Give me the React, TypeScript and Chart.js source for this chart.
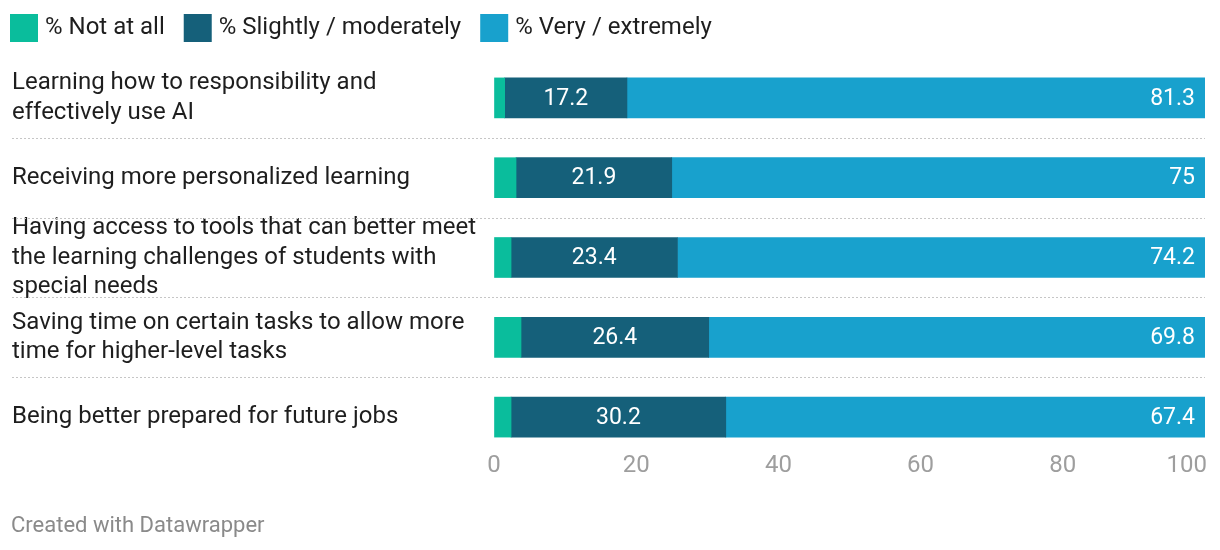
import React, { useEffect, useRef } from "react";
import { Chart, registerables } from "chart.js";
Chart.register(...registerables);

const categories: string[][] = [
  ["Learning how to responsibility and", "effectively use AI"],
  ["Receiving more personalized learning"],
  ["Having access to tools that can better meet", "the learning challenges of students with", "special needs"],
  ["Saving time on certain tasks to allow more", "time for higher-level tasks"],
  ["Being better prepared for future jobs"],
];
const seriesNames = ["% Not at all", "% Slightly / moderately", "% Very / extremely"];
const notAtAll = [1.5, 3.1, 2.4, 3.8, 2.4];
const slightly = [17.2, 21.9, 23.4, 26.4, 30.2];
const very = [81.3, 75, 74.2, 69.8, 67.4];
const seriesColors = ["#0abd9c", "#15607a", "#18a1cd"];
const xTicks = [0, 20, 40, 60, 80, 100];
const footerText = "Created with Datawrapper";

const FONT = "Roboto, 'Noto Sans', sans-serif";

const fmt = (v: number) => String(v);

const decor = {
  id: "decor",
  beforeDatasetsDraw(chart: any) {
    const { ctx, chartArea } = chart;
    const y = chart.scales.y;
    ctx.save();
    ctx.strokeStyle = "#c6c6c6";
    ctx.lineWidth = 1;
    ctx.setLineDash([2, 2]);
    for (let i = 0; i < categories.length - 1; i++) {
      const py = Math.round((y.getPixelForValue(i) + y.getPixelForValue(i + 1)) / 2) + 0.5;
      ctx.beginPath();
      ctx.moveTo(12, py);
      ctx.lineTo(chartArea.right, py);
      ctx.stroke();
    }
    ctx.restore();
  },
  afterDraw(chart: any) {
    const { ctx, chartArea } = chart;
    ctx.save();
    // value labels
    ctx.font = `23px ${FONT}`;
    ctx.fillStyle = "#ffffff";
    ctx.textBaseline = "middle";
    const m1 = chart.getDatasetMeta(1);
    const m2 = chart.getDatasetMeta(2);
    m1.data.forEach((el: any, i: number) => {
      ctx.textAlign = "center";
      ctx.fillText(fmt(slightly[i]), (el.x + el.base) / 2, el.y + 1);
    });
    m2.data.forEach((el: any, i: number) => {
      ctx.textAlign = "right";
      ctx.fillText(fmt(very[i]), el.x - 10, el.y + 1);
    });

    // x tick labels
    const xs = chart.scales.x;
    ctx.font = `24px ${FONT}`;
    ctx.fillStyle = "#9e9e9e";
    xTicks.forEach((v, i) => {
      const px = xs.getPixelForValue(v);
      if (i === xTicks.length - 1) {
        ctx.textAlign = "right";
        ctx.fillText(String(v), px + 2, chartArea.bottom + 9);
      } else {
        ctx.textAlign = "center";
        ctx.fillText(String(v), px, chartArea.bottom + 9);
      }
    });

    // legend
    let lx = 10;
    ctx.textAlign = "left";
    ctx.font = `24px ${FONT}`;
    seriesNames.forEach((name, i) => {
      ctx.fillStyle = seriesColors[i];
      ctx.fillRect(lx, 14, 28, 28);
      ctx.fillStyle = "#1e1e1e";
      ctx.fillText(name, lx + 35, 28);
      lx += 35 + ctx.measureText(name).width + 19;
    });

    // footer
    ctx.font = `22px ${FONT}`;
    ctx.fillStyle = "#8a8a8a";
    ctx.fillText(footerText, 11, 526);
    ctx.restore();
  },
};

export default function App() {
  const ref = useRef<HTMLCanvasElement | null>(null);
  useEffect(() => {
    if (!ref.current) return;
    const chart = new Chart(ref.current, {
      type: "bar",
      data: {
        labels: categories as any,
        datasets: [notAtAll, slightly, very].map((d, i) => ({
          label: seriesNames[i],
          data: d,
          backgroundColor: seriesColors[i],
          borderWidth: 0,
          barThickness: 40,
        })),
      },
      options: {
        indexAxis: "y",
        animation: false,
        responsive: false,
        devicePixelRatio: 1,
        layout: { padding: { left: 12, right: 15, top: 58, bottom: 93 } },
        plugins: { legend: { display: false }, tooltip: { enabled: false } },
        scales: {
          x: {
            type: "linear",
            stacked: true,
            min: 0,
            max: 100,
            z: 1,
            ticks: { display: false, stepSize: 20 },
            grid: { color: "rgba(255,255,255,0.42)", drawTicks: false, lineWidth: 1 },
            border: { display: false },
          },
          y: {
            type: "category",
            stacked: true,
            grid: { display: false },
            border: { display: false },
            ticks: {
              autoSkip: false,
              crossAlign: "far",
              color: "#1e1e1e",
              padding: 0,
              font: { family: FONT, size: 24, lineHeight: 1.22 },
            },
            afterFit(scale: any) {
              scale.width = 482;
            },
          },
        },
      } as any,
      plugins: [decor],
    });
    return () => chart.destroy();
  }, []);
  return (
    <div style={{ position: "absolute", left: 0, top: 0, width: 1220, height: 550, background: "#fff" }}>
      <canvas ref={ref} width={1220} height={550} />
    </div>
  );
}
